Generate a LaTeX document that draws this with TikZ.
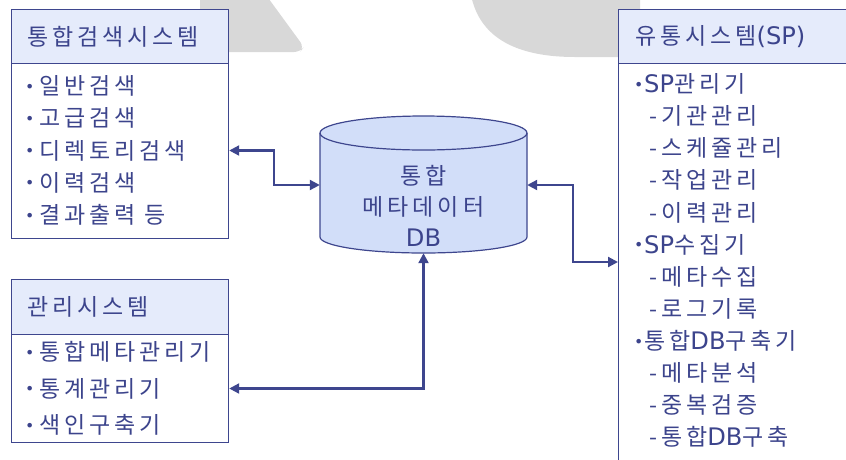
\documentclass[tikz,border=0pt]{standalone}
\usepackage{fontspec}
\setmainfont[LetterSpace=17]{Noto Sans CJK KR}
\newfontfamily\latfont[Scale=1.05]{DejaVu Sans}
\usetikzlibrary{arrows.meta}

\definecolor{lineblue}{RGB}{62,70,142}
\definecolor{textblue}{RGB}{60,68,140}
\definecolor{headblue}{RGB}{229,235,251}
\definecolor{dbblue}{RGB}{210,222,249}
\definecolor{wmgray}{RGB}{216,216,216}

\newcommand\en[1]{{\latfont #1}}
\newcommand\bul[1]{\makebox[#1][l]{\raisebox{2.5pt}{\latfont\fontsize{15}{15}\selectfont •}}}

\begin{document}
\begin{tikzpicture}[x=1pt,y=-1pt,
    sysline/.style={draw=lineblue,line width=1.2pt},
    headbox/.style={sysline,fill=headblue,anchor=north west,minimum width=217pt,minimum height=54pt,inner sep=0pt},
    bodybox/.style={sysline,fill=white,anchor=north west,minimum width=217pt,inner sep=0pt},
    titletext/.style={anchor=west,inner sep=0pt,text=textblue,font=\fontsize{23}{27}\selectfont},
    itemtext/.style={titletext},
    dbline/.style={draw=lineblue,line width=1.2pt,fill=dbblue},
    link/.style={draw=lineblue,line width=2.2pt,{Triangle[length=10pt,width=10pt]}-{Triangle[length=10pt,width=10pt]}}]
  \clip (0,0) rectangle (846,459);

  % watermark in the back
  \fill[wmgray,rounded corners=6pt] (200,-5) -- (266,-5) -- (304,47) -- (300,52) -- (200,52) -- cycle;
  \fill[wmgray] (471,-5) .. controls (480,40) and (520,57) .. (575,57) -- (640,57) -- (640,-5) -- cycle;

  % search system
  \node[headbox] (srchhead) at (11,9) {};
  \node[bodybox,minimum height=175pt] (srchbox) at (11,63) {};
  \node[titletext] (srchtitle) at (27,37) {통합검색시스템};
  \foreach \t [count=\i] in {일반검색,고급검색,디렉토리검색,이력검색,결과출력 등}
    \node[itemtext] (srch-\i) at (25,{86+32.25*(\i-1)}) {\bul{14pt}\t};

  % management system
  \node[headbox,minimum height=55pt] (mgmthead) at (11,279) {};
  \node[bodybox,minimum height=108pt] (mgmtbox) at (11,334) {};
  \node[titletext] (mgmttitle) at (27,307) {관리시스템};
  \foreach \t [count=\i] in {통합메타관리기,통계관리기,색인구축기}
    \node[itemtext] (mgmt-\i) at (25,{352+36.5*(\i-1)}) {\bul{14pt}\t};

  % distribution system (SP)
  \node[headbox,minimum width=260pt] (sphead) at (618,9) {};
  \node[bodybox,minimum width=260pt,minimum height=420pt] (spbox) at (618,63) {};
  \node[titletext] (sptitle) at (635,37) {유통시스템\en{(SP)}};
  \foreach \x/\t [count=\i] in {634/{\bul{10pt}\en{SP}관리기},649/-기관관리,649/-스케쥴관리,649/-작업관리,649/-이력관리,
      634/{\bul{10pt}\en{SP}수집기},649/-메타수집,649/-로그기록,
      634/{\bul{10pt}통합\en{DB}구축기},649/-메타분석,649/-중복검증,649/{-통합\en{DB}구축}}
    \node[itemtext] (sp-\i) at (\x,{84+32.1*(\i-1)}) {\t};
  \coordinate (spin) at (618,262);

  % metadata db
  \node[minimum width=207pt,minimum height=136pt,inner sep=0pt] (db) at (423.5,185) {};
  \path[dbline] (320,133) -- (320,237) arc[start angle=180,end angle=0,x radius=103.5,y radius=16]
    -- (527,133) arc[start angle=0,end angle=-180,x radius=103.5,y radius=17] -- cycle;
  \draw[lineblue,line width=1.2pt] (320,133) arc[start angle=180,end angle=0,x radius=103.5,y radius=17];
  \node[titletext,anchor=center,align=center] (dblabel) at (423.5,206) {통합\\[4pt]메타데이터\\[4pt]\en{DB}};

  % links
  \draw[link] (srch-3 -| srchbox.east) -- ++(45,0) |- (db.west);
  \draw[link] (db.east) -- ++(46,0) |- (spin);
  \draw[link] (db.south) |- (mgmt-2 -| mgmtbox.east);
\end{tikzpicture}
\end{document}
